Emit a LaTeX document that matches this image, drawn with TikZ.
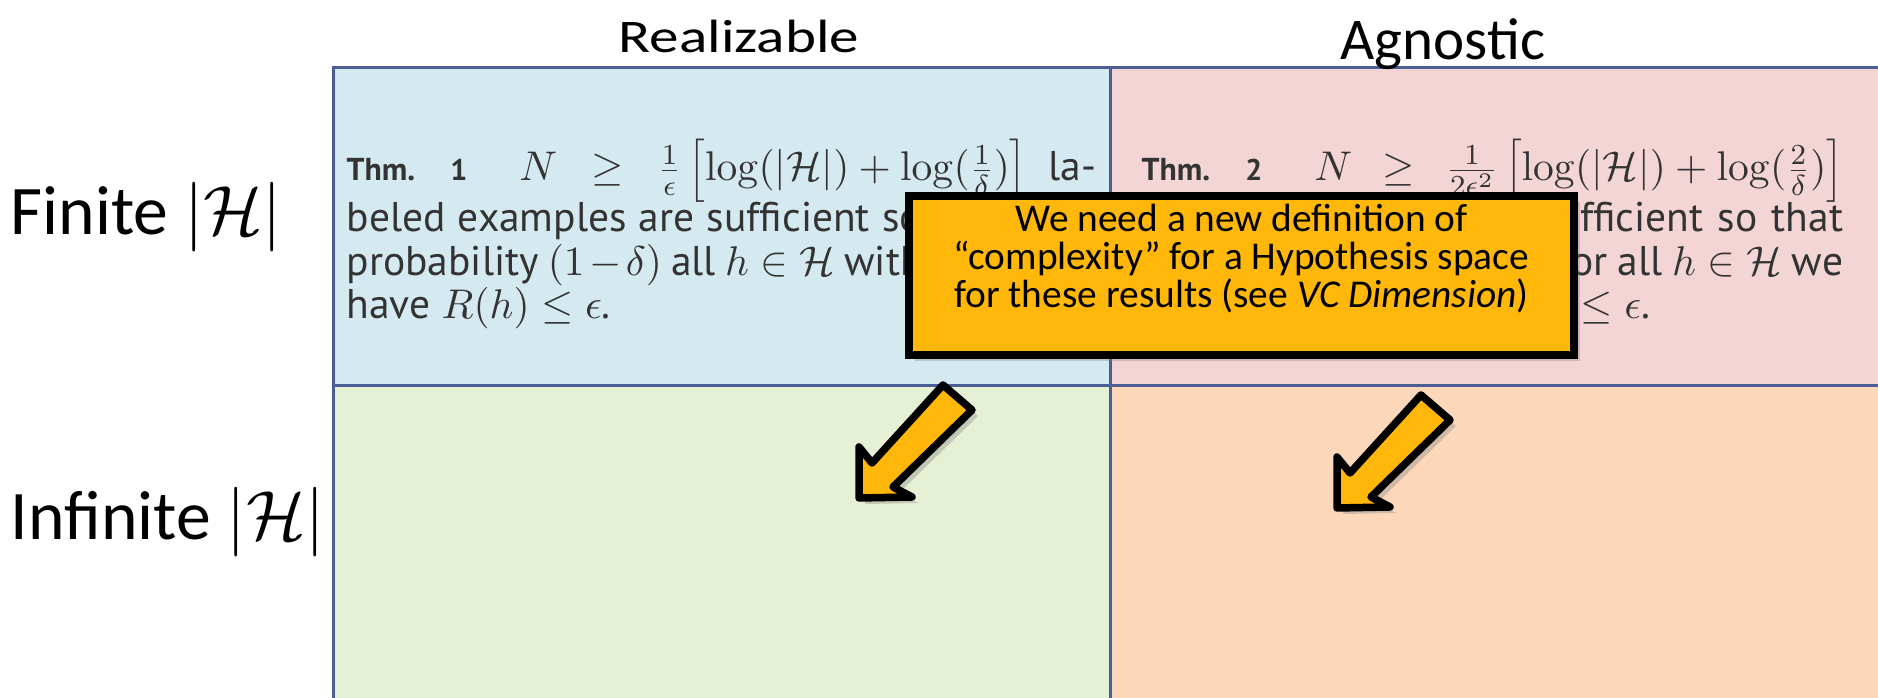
\documentclass[tikz,border=0pt]{standalone}
\usepackage{fix-cm}
\usepackage[no-math]{fontspec}
\setmainfont{Carlito}
\newfontfamily\bookfont{PT Sans}
\usetikzlibrary{shadows}
\definecolor{cellblue}{RGB}{213,234,240}
\definecolor{cellpink}{RGB}{244,213,213}
\definecolor{cellgreen}{RGB}{230,240,212}
\definecolor{cellpeach}{RGB}{252,215,185}
\definecolor{gridline}{RGB}{75,95,148}
\definecolor{noteyellow}{RGB}{255,183,10}
\newcommand{\thmhead}[1]{\lineskiplimit=-20pt\baselineskip=12.4pt\relax{\fontsize{9}{10}\selectfont\bfseries Thm.}\hspace{0.85em}{\fontsize{8.5}{9}\selectfont\bfseries #1}\hspace{1.25em}}
\newcommand{\firstline}{\parfillskip=0pt\par\parfillskip=0pt plus 1fil\vspace{2pt}}

\begin{document}
\begin{tikzpicture}[x=0.01cm, y=-0.01cm,
  rowhead/.style={anchor=base west, inner sep=0, font=\fontsize{19.8}{24}\selectfont},
  colhead/.style={anchor=base, inner sep=0, font=\fontsize{16.8}{20}\selectfont},
  thm/.style={anchor=base west, inner sep=0, align=justify, text=black!80, font=\bookfont\fontsize{11.8}{12.4}\selectfont},
  softshadow/.style={drop shadow={shadow xshift=0.06cm, shadow yshift=-0.06cm, opacity=0.35}},
  note/.style={draw=black, line width=0.08cm, fill=noteyellow, softshadow},
  notetext/.style={anchor=base, inner sep=0, align=center, font=\fontsize{11.2}{10.9}\selectfont},
  arrowshape/.style={draw=black, line width=0.075cm, line join=round, fill=noteyellow, softshadow}]
  \useasboundingbox (0,0) rectangle (1878,698);
  \fill[cellblue] (333,68) rectangle (1110,386);
  \fill[cellpink] (1110,68) rectangle (1878,386);
  \fill[cellgreen] (333,386) rectangle (1110,698);
  \fill[cellpeach] (1110,386) rectangle (1878,698);
  \draw[gridline, line width=0.03cm] (333,698) -- (333,68) -- (1878,68);
  \draw[gridline, line width=0.03cm] (1110,68) -- (1110,698);
  \draw[gridline, line width=0.03cm] (333,386) -- (1878,386);

  \node[colhead, yscale=0.79] (real) at (739,53) {Realizable};
  \node[colhead] (agn) at (1443,60) {Agnostic};
  \node[rowhead] (fin) at (10,235) {Finite $|\mathcal{H}|$};
  \node[rowhead] (inf) at (10,540) {Infinite $|\mathcal{H}|$};

  \node[thm, text width=7.49cm] (thmone) at (346,181) {\thmhead{1}$\medmuskip=4mu plus 40mu N \geq \frac{1}{\epsilon}\left[\log(|\mathcal{H}|)+\log(\frac{1}{\delta})\right]$ la-\firstline
    beled examples are sufficient so that with\linebreak probability $(1-\delta)$ all $h\in\mathcal{H}$ with $\hat{R}(h)=0$\linebreak have $R(h)\leq\epsilon$.\par};
  \node[thm, text width=7.01cm] (thmtwo) at (1141,181) {\thmhead{2}$\medmuskip=4mu plus 40mu N \geq \frac{1}{2\epsilon^2}\left[\log(|\mathcal{H}|)+\log(\frac{2}{\delta})\right]$\firstline
    labeled examples are sufficient so that\linebreak with probability $(1-\delta)$ for all $h\in\mathcal{H}$ we\linebreak have that $|R(h)-\hat{R}(h)|\leq\epsilon$.\par};

  \node[note, minimum width=6.65cm, minimum height=1.59cm] (box) at (1241.5,275.5) {};
  \node[notetext] (msg) at (1241.5,308) {We need a new definition of\\“complexity” for a Hypothesis space\\for these results (see \textit{VC Dimension})};

  \foreach \dx/\dy in {0/0, 478/10} {
    \begin{scope}[shift={(\dx,\dy)}]
      \filldraw[arrowshape] (943,385) -- (972,410) -- (893,487) -- (912,497) -- (859,498) -- (859,447) -- (872,463) -- cycle;
    \end{scope}
  }
\end{tikzpicture}
\end{document}
